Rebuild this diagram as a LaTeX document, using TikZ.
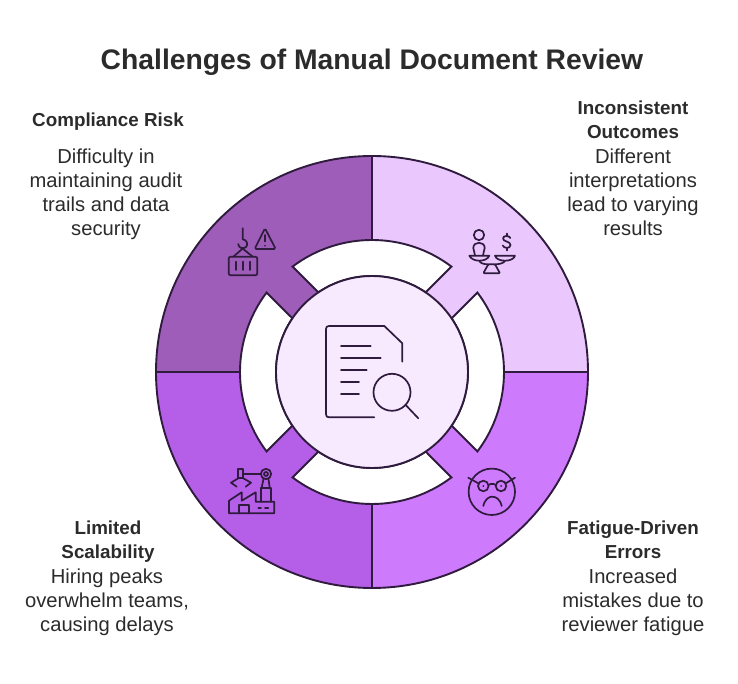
\documentclass[tikz,border=0pt]{standalone}
\usepackage{fontspec}
\setmainfont{Liberation Sans}

\definecolor{Ink}{HTML}{2F1B3D}
\definecolor{Title}{HTML}{2B2B2B}
\definecolor{Risk}{HTML}{9E5DB9}
\definecolor{Outcome}{HTML}{EAC8FE}
\definecolor{Fatigue}{HTML}{CE7AFD}
\definecolor{Scale}{HTML}{B55EE8}
\definecolor{Core}{HTML}{F7E9FE}

\tikzset{
  ring/.style={line width=1.9, draw=Ink},
  icon/.style={line width=1.7, draw=Ink, line cap=round, line join=round},
  head/.style={align=center, inner sep=0, text=Title, font=\fontsize{18.8}{24}\selectfont\bfseries},
  desc/.style={align=center, inner sep=0, text=Title, font=\fontsize{20.2}{24}\selectfont},
}

\begin{document}
\begin{tikzpicture}[x=1pt, y=1pt]

  \useasboundingbox (-372,-312) rectangle (366,372);

  %%%%%%%%%% Quarters %%%%%%%%%%
  \fill [color=Outcome] (0,0) -- (0,216) arc [start angle=90, end angle=0, radius=216] -- cycle ;
  \fill [color=Fatigue] (0,0) -- (216,0) arc [start angle=0, end angle=-90, radius=216] -- cycle ;
  \fill [color=Scale] (0,0) -- (0,-216) arc [start angle=270, end angle=180, radius=216] -- cycle ;
  \fill [color=Risk] (0,0) -- (-216,0) arc [start angle=180, end angle=90, radius=216] -- cycle ;
  \draw [ring] (0,0) circle [radius=216] ;
  \draw [ring] (-216,0) -- (216,0) ;
  \draw [ring] (0,-216) -- (0,216) ;

  %%%%%%%%%% White segments %%%%%%%%%%
  \foreach \a in {0,90,180,270}
  {
    \draw [ring, fill=white, rotate=\a] (53:132) arc [start angle=53, end angle=127, radius=132]
      -- (124:96) arc [start angle=124, end angle=56, radius=96] -- cycle ;
  }

  %%%%%%%%%% Centre %%%%%%%%%%
  \draw [ring, fill=Core] (0,0) circle [radius=96] ;

  %%%%%%%%%% Icons, in picture pixels %%%%%%%%%%
  \begin{scope}[shift={(-372,372)}, y=-1pt]

    % document and magnifier
    \draw [icon] (402.3,361.7) -- (402.3,343.3) -- (384.3,326) -- (329,326)
      .. controls (327,326) and (326,327) .. (326,329) -- (326,414.3)
      .. controls (326,416.3) and (327,417.3) .. (329,417.3) -- (374.3,417.3) ;
    \draw [icon] (341,345.7) -- (370.7,345.7) ;
    \draw [icon] (341,357.7) -- (380.7,357.7) ;
    \draw [icon] (341,369.7) -- (366.7,369.7) ;
    \draw [icon] (341,381.7) -- (359,381.7) ;
    \draw [icon] (341,393.7) -- (359,393.7) ;
    \draw [icon] (392,392.3) circle [radius=18.5] ;
    \draw [icon] (405.7,405) -- (418.3,418.3) ;

    % hook and warning
    \draw [icon] (242.7,228.3) -- (242.7,239.3)
      .. controls (247,239.5) and (248.5,245) .. (246,247)
      .. controls (243,249.5) and (238.5,248) .. (238.2,244) ;
    \draw [icon, rounded corners=1.5] (265,228.3) -- (275.7,249) -- (254.6,249) -- cycle ;
    \draw [icon] (265,235) -- (265,241.5) ;
    \draw [icon] (265,245.7) -- (265,245.8) ;
    \draw [icon] (233.3,256.7) -- (242.7,248.6) -- (252.7,256.7) ;
    \draw [icon, rounded corners=2] (228.7,256.7) rectangle (257.3,275.3) ;
    \foreach \x in {235.7,243,250}
    {
      \draw [icon] (\x,261.7) -- (\x,270) ;
    }

    % scales
    \draw [icon] (479,235) circle [radius=5.2] ;
    \draw [icon] (475,255.5) .. controls (475,252) and (473.3,251) .. (473.3,248)
      .. controls (473.3,241) and (484.7,241) .. (484.7,248)
      .. controls (484.7,251) and (483,252) .. (483,255.5) ;
    \draw [icon] (469.3,255.7) -- (489.3,255.7) .. controls (488,259) and (484,260.7) .. (479.3,260.7)
      .. controls (475,260.7) and (471,259) .. (469.3,255.7) ;
    \draw [icon] (495,255.7) -- (515,255.7) .. controls (514,259) and (510,260.7) .. (505,260.7)
      .. controls (500,260.7) and (496,259) .. (495,255.7) ;
    \draw [icon] (479.3,260.7) .. controls (480,263) and (483,264.3) .. (488.3,264.3) ;
    \draw [icon] (505,260.7) .. controls (504,263) and (500,264.3) .. (495,264.3) ;
    \draw [icon, rounded corners=1] (483.3,273.3) -- (488.3,264.3) -- (495,264.3) -- (500,273.3) -- cycle ;
    \draw [icon] (510.3,238) .. controls (509.5,235.5) and (503,235) .. (503,238.5)
      .. controls (503,242) and (510.5,241) .. (510.5,245)
      .. controls (510.5,249) and (503.5,248.5) .. (502.8,245.5) ;
    \draw [icon] (506.7,233.5) -- (506.7,236) ;
    \draw [icon] (506.7,248) -- (506.7,250.5) ;

    % robot arm and factory
    \draw [icon] (229,513.3) -- (229,500.7) -- (241.7,492.3) -- (241.7,500.7) -- (255.7,492.3)
      -- (255.7,501.7) -- (274.3,501.7) -- (274.3,513.3) -- cycle ;
    \draw [icon] (239,513.3) -- (239,505) -- (249.3,505) -- (249.3,513.3) ;
    \draw [icon] (258.3,508.3) -- (261,508.3) ;
    \draw [icon] (265,508.3) -- (268.3,508.3) ;
    \draw [icon] (260.7,501.7) -- (260.7,488.3) -- (270.7,488.3) -- (270.7,501.7) ;
    \draw [icon] (261.5,488.3) -- (263.5,479) ;
    \draw [icon] (269.8,488.3) -- (268.5,479) ;
    \draw [icon] (266,474) circle [radius=5.2] ;
    \draw [icon] (266,474) circle [radius=2] ;
    \draw [icon] (260.8,474) -- (243.3,474) ;
    \draw [icon] (238.3,469.3) rectangle (243.3,478.3) ;
    \draw [icon] (238.3,478.3) -- (231,482.7) -- (236.7,486.7) ;
    \draw [icon] (243.3,478.3) -- (251,482.7) -- (245.7,486.7) ;

    % face with glasses
    \draw [icon] (491.8,491.8) circle [radius=23.2] ;
    \draw [icon] (483.3,486) circle [radius=5.3] ;
    \draw [icon] (501,486) circle [radius=5.3] ;
    \draw [icon] (488.6,485) .. controls (490,483.5) and (494.5,483.5) .. (495.7,485) ;
    \draw [icon] (478.3,483.3) -- (468.3,477.7) ;
    \draw [icon] (505.8,483.3) -- (515,477.7) ;
    \fill [color=Ink] (483.3,486) circle [radius=1] ;
    \fill [color=Ink] (501,486) circle [radius=1] ;
    \draw [icon] (483.3,506) .. controls (485,499) and (489,496.7) .. (492,496.7)
      .. controls (496,496.7) and (500,499) .. (501.7,506) ;

  \end{scope}

  %%%%%%%%%% Texts %%%%%%%%%%
  \node (title) [inner sep=0, text=Title, font=\fontsize{28.3}{34}\selectfont\bfseries] at (0,310) {Challenges of Manual Document Review};

  \node (riskhead) [head] at (-264,250) {Compliance Risk};
  \node (riskdesc) [desc] at (-266,178) {Difficulty in\\maintaining audit\\trails and data\\security};

  \node (outcomehead) [head] at (261,252) {Inconsistent\\Outcomes};
  \node (outcomedesc) [desc] at (261,180) {Different\\interpretations\\lead to varying\\results};

  \node (scalehead) [head] at (-264,-170) {Limited\\Scalability};
  \node (scaledesc) [desc] at (-265,-230) {Hiring peaks\\overwhelm teams,\\causing delays};

  \node (fatiguehead) [head] at (261,-168) {Fatigue-Driven\\Errors};
  \node (fatiguedesc) [desc] at (261,-230) {Increased\\mistakes due to\\reviewer fatigue};

\end{tikzpicture}
\end{document}
